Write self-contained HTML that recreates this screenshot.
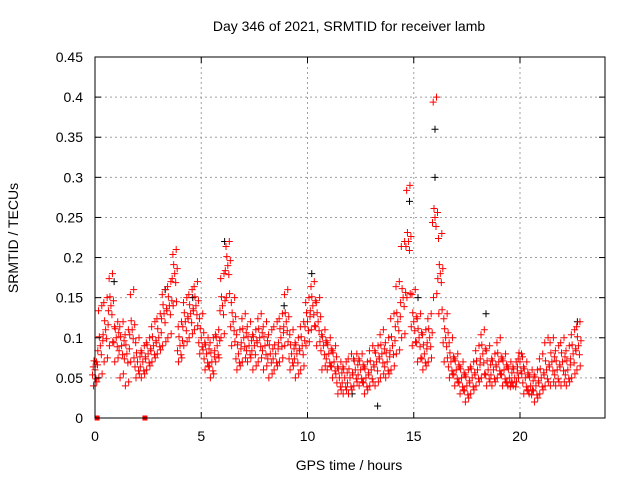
<!DOCTYPE html>
<html><head><meta charset="utf-8"><style>
body{margin:0;background:#fff}
svg text{font-family:"Liberation Sans",sans-serif;font-size:14px;fill:#000}
</style></head><body>
<svg id="c" width="640" height="480">
<rect x="0" y="0" width="640" height="480" fill="#fff"/>
<g id="grid"></g>
<g id="marks"></g>
<rect x="95" y="57" width="510" height="361" fill="none" stroke="#000"/>
<g id="axes"></g>
<text x="349" y="31" text-anchor="middle">Day 346 of 2021, SRMTID for receiver lamb</text>
<text x="349" y="470" text-anchor="middle">GPS time / hours</text>
<text x="18" y="238" text-anchor="middle" transform="rotate(-90 18 238)">SRMTID / TECUs</text>
</svg>
<script>
const times=[0,0.25,0.5,0.75,1,1.25,1.5,1.75,2,2.25,2.5,2.75,3,3.25,3.5,3.75,4,4.25,4.5,4.75,5,5.25,5.5,5.75,6,6.25,6.5,6.75,7,7.25,7.5,7.75,8,8.25,8.5,8.75,9,9.25,9.5,9.75,10,10.25,10.5,10.75,11,11.25,11.5,11.75,12,12.25,12.5,12.75,13,13.25,13.5,13.75,14,14.25,14.5,14.75,15,15.25,15.5,15.75,16,16.25,16.5,16.75,17,17.25,17.5,17.75,18,18.25,18.5,18.75,19,19.25,19.5,19.75,20,20.25,20.5,20.75,21,21.25,21.5,21.75,22,22.25,22.5,22.75];
const redLo=[0.04,0.05,0.07,0.09,0.07,0.05,0.04,0.07,0.05,0.05,0.06,0.07,0.08,0.09,0.10,0.14,0.07,0.09,0.10,0.11,0.08,0.06,0.05,0.07,0.10,0.15,0.09,0.06,0.07,0.07,0.06,0.07,0.06,0.05,0.06,0.07,0.09,0.06,0.05,0.06,0.09,0.11,0.09,0.06,0.06,0.05,0.03,0.03,0.03,0.04,0.04,0.03,0.04,0.04,0.05,0.05,0.06,0.08,0.10,0.15,0.09,0.07,0.06,0.07,0.15,0.13,0.07,0.05,0.04,0.03,0.02,0.03,0.04,0.05,0.04,0.04,0.05,0.04,0.04,0.04,0.05,0.03,0.03,0.02,0.03,0.04,0.04,0.04,0.04,0.04,0.05,0.06];
const redMid=[0.06,0.09,0.11,0.14,0.10,0.09,0.08,0.11,0.07,0.07,0.08,0.09,0.10,0.13,0.14,0.18,0.09,0.12,0.13,0.14,0.10,0.08,0.07,0.09,0.14,0.19,0.12,0.08,0.10,0.09,0.09,0.10,0.09,0.08,0.08,0.10,0.12,0.08,0.08,0.09,0.12,0.14,0.12,0.09,0.08,0.07,0.05,0.05,0.05,0.06,0.06,0.05,0.06,0.07,0.08,0.07,0.09,0.12,0.15,0.22,0.12,0.10,0.08,0.10,0.25,0.18,0.10,0.07,0.06,0.05,0.04,0.05,0.06,0.08,0.06,0.06,0.07,0.06,0.05,0.05,0.07,0.05,0.04,0.04,0.05,0.06,0.07,0.06,0.07,0.06,0.08,0.09];
const redHi=[0.07,0.14,0.15,0.18,0.12,0.12,0.11,0.16,0.10,0.09,0.10,0.12,0.13,0.16,0.17,0.21,0.12,0.15,0.16,0.17,0.13,0.10,0.10,0.11,0.18,0.22,0.15,0.11,0.13,0.12,0.11,0.13,0.12,0.11,0.12,0.13,0.16,0.11,0.10,0.12,0.15,0.17,0.15,0.11,0.10,0.09,0.07,0.07,0.08,0.08,0.08,0.07,0.09,0.09,0.11,0.10,0.13,0.17,0.22,0.29,0.16,0.13,0.11,0.13,0.40,0.23,0.13,0.10,0.08,0.07,0.06,0.07,0.09,0.11,0.09,0.08,0.10,0.08,0.07,0.07,0.08,0.07,0.06,0.06,0.08,0.10,0.10,0.09,0.10,0.09,0.11,0.12];
const blackT=[16.0,16.0,14.8,6.1,10.2,22.7,13.3,0.9,3.3,18.4,15.2,4.6,8.9,12.1];
const blackV=[0.36,0.30,0.27,0.22,0.18,0.12,0.015,0.17,0.16,0.13,0.15,0.15,0.14,0.03];
const squareT=[0.1,2.35];
const squareV=[0,0];
const xTicks=[0,5,10,15,20];
const yTicks=[0,0.05,0.1,0.15,0.2,0.25,0.3,0.35,0.4,0.45];
const yLabels=["0","0.05","0.1","0.15","0.2","0.25","0.3","0.35","0.4","0.45"];

const NS="http://www.w3.org/2000/svg";
const X=h=>95+h*510/24;
const Y=v=>418-v*361/0.45;
function mk(tag,attrs,parent){const e=document.createElementNS(NS,tag);for(const k in attrs)e.setAttribute(k,attrs[k]);parent.appendChild(e);return e;}
const grid=document.getElementById('grid'),axes=document.getElementById('axes'),marks=document.getElementById('marks');
xTicks.forEach(t=>{const x=X(t);
 if(t>0){const g=mk('line',{x1:x,x2:x,y1:57,y2:418,stroke:'#a0a0a0','stroke-dasharray':'2,3'},grid);}
 mk('line',{x1:x,x2:x,y1:418,y2:412,stroke:'#000'},axes);mk('line',{x1:x,x2:x,y1:57,y2:63,stroke:'#000'},axes);
 const l=mk('text',{x:x,y:441,'text-anchor':'middle'},axes);l.textContent=t;
 });
yTicks.forEach((t,i)=>{const y=Y(t);
 if(t>0){const g=mk('line',{x1:95,x2:605,y1:y,y2:y,stroke:'#a0a0a0','stroke-dasharray':'2,3'},grid);}
 mk('line',{x1:95,x2:101,y1:y,y2:y,stroke:'#000'},axes);mk('line',{x1:605,x2:599,y1:y,y2:y,stroke:'#000'},axes);
 const l=mk('text',{x:83,y:y+5,'text-anchor':'end'},axes);l.textContent=yLabels[i];
 });
function plus(h,v,col,dx,dy){const x=X(h)+dx,y=Y(v)+dy;
 const p=mk('path',{d:`M${x-3.5},${y}h7M${x},${y-3.5}v7`,stroke:col,'stroke-width':1,fill:'none'},marks);
 }
blackT.forEach((t,i)=>plus(t,blackV[i],'#000',0,0));
times.forEach((t,i)=>{
 plus(t,redLo[i],'#f00',-1.5,0);plus(t,redLo[i],'#f00',1.8,-4);
 plus(t,redMid[i],'#f00',-2.5,5);plus(t,redMid[i],'#f00',0,0);plus(t,redMid[i],'#f00',2.5,-5);
 plus(t,redMid[i],'#f00',-1,-9);plus(t,redMid[i],'#f00',1,9);
 plus(t,redHi[i],'#f00',1.5,0);plus(t,redHi[i],'#f00',-1.8,5);});
squareT.forEach((t,i)=>{const s=mk('rect',{x:X(t)-2.5,y:Y(squareV[i])-2.5,width:5,height:5,fill:'#f00'},marks);
 });
</script>
</body></html>
